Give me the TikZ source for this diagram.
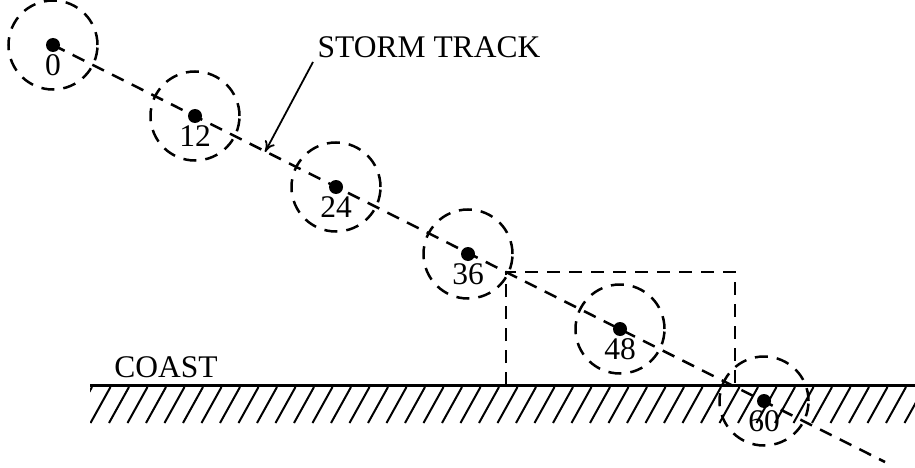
\documentclass[tikz,border=0pt]{standalone}
\usepackage{fontspec}
\setmainfont{Liberation Serif}
\usetikzlibrary{arrows.meta}
\tikzset{
  dsh/.style={line width=2.5pt, dash pattern=on 13pt off 9pt},
  storm/.style={circle, draw, dsh, minimum size=89pt, inner sep=0pt},
  dotc/.style={circle, fill=black, minimum size=14pt, inner sep=0pt},
  hr/.style={font=\fontsize{31.5}{36}\selectfont, inner sep=0pt},
}
\begin{document}
\begin{tikzpicture}[x=1pt,y=-1pt]
\useasboundingbox (0,0) rectangle (915,468);
% storm positions
\foreach \n/\x/\y in {0/53/45, 12/195/116, 24/336/187, 36/468/254, 48/620/329, 60/764/401}{
  \node[storm] (c\n) at (\x,\y) {};
  \node[dotc] (d\n) at (\x,\y) {};
  \node[hr] (t\n) at (\x,\y+20) {\n};
}
% track
\coordinate (trackend) at (885,462);
\draw[dsh] (d0.center) -- (trackend);
% box
\coordinate (b1) at (506,385);
\coordinate (b2) at (506,272);
\coordinate (b3) at (735,272);
\coordinate (b4) at (735,385);
\draw[dsh] (b1) -- (b2) -- (b3) -- (b4);
% coast
\coordinate (cl) at (90,385);
\coordinate (cr) at (915,385);
\draw[line width=3pt] (cl) -- (cr);
\begin{scope}
  \clip (90,386) rectangle (915,423);
  \foreach \i in {0,...,46}{
    \draw[line width=2pt] (72+\i*18.5,423) -- (92+\i*18.5,387);
  }
\end{scope}
\node[hr] (coast) at (166,367) {COAST};
% label
\node[hr] (lbl) at (429,47) {STORM TRACK};
\coordinate (tip) at (265,152);
\draw[line width=1.8pt, -{To[length=11pt,width=11pt]}] (313,62) -- (tip);
\end{tikzpicture}
\end{document}
